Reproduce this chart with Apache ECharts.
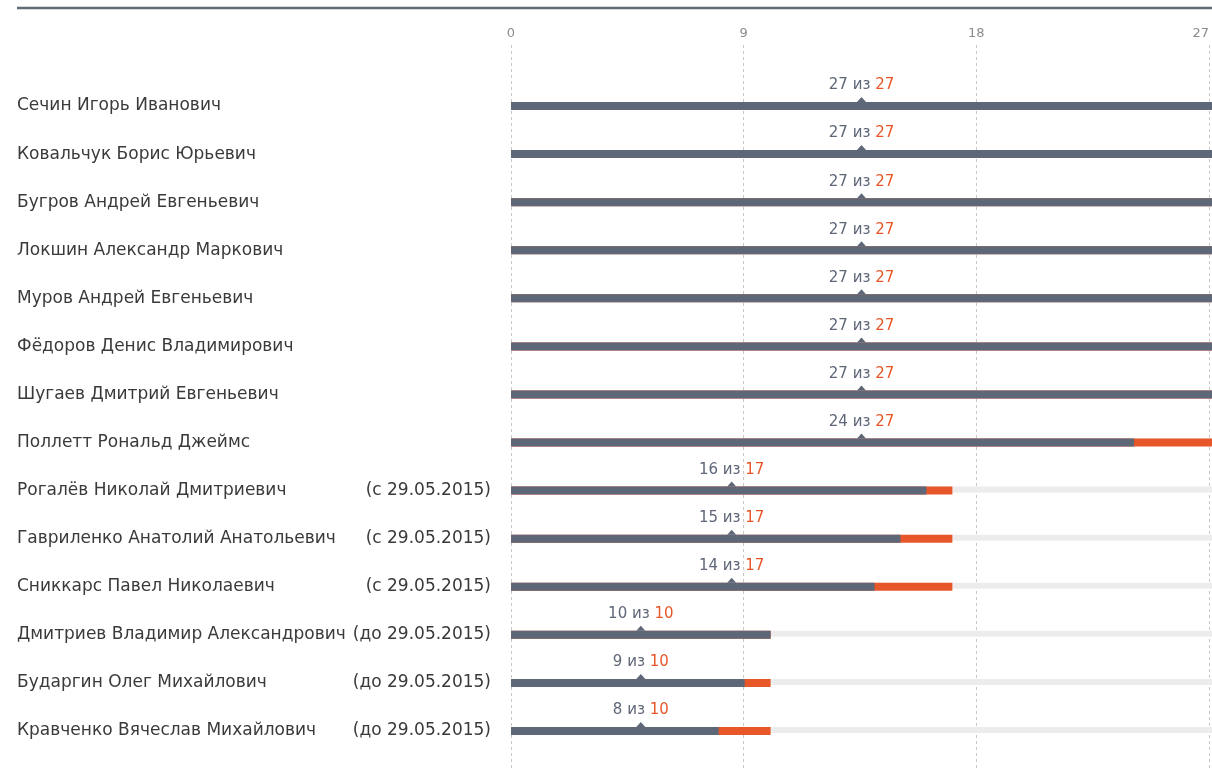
<!DOCTYPE html>
<html>
<head>
<meta charset="utf-8">
<script src="https://cdn.jsdelivr.net/npm/echarts@6/dist/echarts.min.js"></script>
<style>
html,body{margin:0;padding:0;background:#fff;}
#chart{width:1212px;height:768px;}
</style>
</head>
<body>
<div id="chart"></div>
<script>
var names = [
  'Сечин Игорь Иванович',
  'Ковальчук Борис Юрьевич',
  'Бугров Андрей Евгеньевич',
  'Локшин Александр Маркович',
  'Муров Андрей Евгеньевич',
  'Фёдоров Денис Владимирович',
  'Шугаев Дмитрий Евгеньевич',
  'Поллетт Рональд Джеймс',
  'Рогалёв Николай Дмитриевич',
  'Гавриленко Анатолий Анатольевич',
  'Сниккарс Павел Николаевич',
  'Дмитриев Владимир Александрович',
  'Бударгин Олег Михайлович',
  'Кравченко Вячеслав Михайлович'
];
var periods = ['', '', '', '', '', '', '', '',
  '(с 29.05.2015)', '(с 29.05.2015)', '(с 29.05.2015)',
  '(до 29.05.2015)', '(до 29.05.2015)', '(до 29.05.2015)'];
var attended = [27, 27, 27, 27, 27, 27, 27, 24, 16, 15, 14, 10, 9, 8];
var totals   = [27, 27, 27, 27, 27, 27, 27, 27, 17, 17, 17, 10, 10, 10];
var maxMeetings = 27;
var tickStep = 9;

var DARK = '#5e6777', ORANGE = '#e8572a', TRACK = '#ececec';
var FONT = '"DejaVu Sans", "Open Sans", sans-serif';

var chart = echarts.init(document.getElementById('chart'));

var trackData = names.map(function(){ return maxMeetings; });
var markerData = totals.map(function(t, i){ return [t / 2, i]; });

chart.setOption({
  animation: false,
  textStyle: { fontFamily: FONT },
  graphic: [{
    type: 'line', shape: { x1: 17, y1: 8, x2: 1212, y2: 8 },
    style: { stroke: '#616a78', lineWidth: 2.5 }, silent: true
  }],
  grid: [
    { left: 511, width: 704, top: 45, bottom: 0, containLabel: false },
    { left: 511, width: 704, top: 82, height: 673, containLabel: false }
  ],
  xAxis: [
    {
      gridIndex: 0, type: 'value', position: 'top', min: 0, max: maxMeetings, interval: tickStep,
      axisLine: { show: false }, axisTick: { show: false },
      axisLabel: { color: '#8c8c8c', fontSize: 13, margin: 5, alignMaxLabel: 'right', fontFamily: FONT },
      splitLine: { show: true, lineStyle: { color: '#c8c8c8', type: [3, 3], width: 1 } }
    },
    {
      gridIndex: 1, type: 'value', min: 0, max: maxMeetings, interval: tickStep,
      show: false, splitLine: { show: false }
    }
  ],
  yAxis: [
    {
      gridIndex: 0, type: 'category', data: names, show: false
    },
    {
      gridIndex: 1, type: 'category', data: names, inverse: true,
      axisLine: { show: false }, axisTick: { show: false },
      axisLabel: { align: 'left', margin: 494, fontSize: 17, color: '#3a3a3a', fontFamily: FONT }
    },
    {
      gridIndex: 1, type: 'category', data: periods, inverse: true, position: 'left',
      axisLine: { show: false }, axisTick: { show: false },
      axisLabel: { align: 'right', margin: 20, fontSize: 17, color: '#3a3a3a', fontFamily: FONT }
    }
  ],
  series: [
    {
      type: 'bar', xAxisIndex: 1, yAxisIndex: 1, data: trackData,
      barWidth: 6, barGap: '-100%', itemStyle: { color: TRACK }, silent: true
    },
    {
      type: 'bar', xAxisIndex: 1, yAxisIndex: 1, data: totals,
      barWidth: 8, barGap: '-100%', itemStyle: { color: ORANGE }, silent: true
    },
    {
      type: 'bar', xAxisIndex: 1, yAxisIndex: 1, data: attended,
      barWidth: 8, barGap: '-100%', itemStyle: { color: DARK }, silent: true
    },
    {
      type: 'scatter', xAxisIndex: 1, yAxisIndex: 1, data: markerData,
      symbol: 'triangle', symbolSize: [9, 5], symbolOffset: [0, -6.5],
      itemStyle: { color: DARK, opacity: 1 }, silent: true,
      label: {
        show: true, position: 'top', distance: 4,
        formatter: function(p){
          var i = p.dataIndex;
          return '{a|' + attended[i] + ' из }{b|' + totals[i] + '}';
        },
        rich: {
          a: { color: '#5e6777', fontSize: 15, fontFamily: FONT },
          b: { color: ORANGE, fontSize: 15, fontFamily: FONT }
        }
      }
    }
  ]
});
</script>
</body>
</html>
